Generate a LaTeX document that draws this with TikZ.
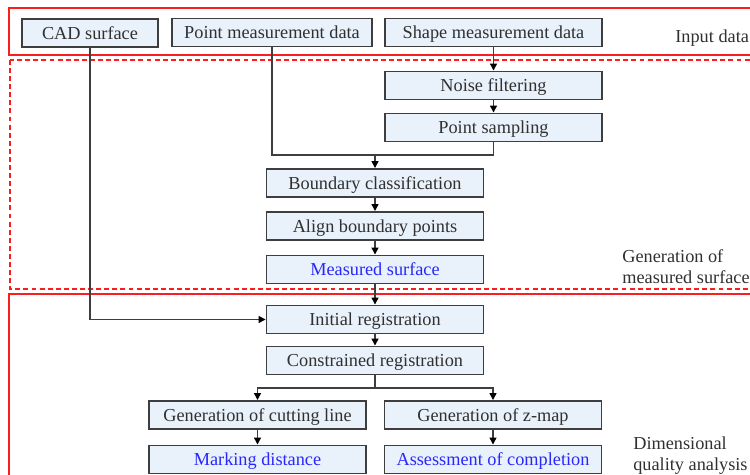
\documentclass[tikz,border=0pt]{standalone}
\usepackage{fontspec}
\setmainfont{Liberation Serif}
\usetikzlibrary{arrows.meta,positioning}

\definecolor{boxfill}{RGB}{233,241,250}
\definecolor{boxline}{RGB}{62,62,62}
\definecolor{txtgray}{RGB}{48,48,48}
\definecolor{resblue}{RGB}{40,40,250}
\definecolor{framered}{RGB}{250,30,30}

\begin{document}
\begin{tikzpicture}[x=0.02cm, y=-0.02cm,
    box/.style={draw=boxline, fill=boxfill, line width=1.1pt,
                minimum height=0.56cm, inner sep=0pt, text=txtgray,
                text height=8.5pt, text depth=1.5pt,
                font=\fontsize{10.4}{12.5}\selectfont},
    wide/.style={box, minimum width=4.34cm},
    result/.style={text=resblue},
    stage/.style={text=txtgray, align=left, anchor=west, inner sep=0pt,
                  font=\fontsize{10.4}{12}\selectfont},
    frame/.style={draw=framered, line width=0.8pt},
    link/.style={draw=boxline, line width=0.8pt},
    arr/.style={link, -{Triangle[length=4pt, width=4pt, color=black]}}]

    \useasboundingbox (0, 0) rectangle (750, 475);

    % Frames
    \draw [frame] (9, 8) rectangle (765, 55);
    \draw [frame, dash pattern=on 2.8pt off 1.8pt] (10, 60) rectangle (765, 289);
    \draw [frame] (9, 294) rectangle (765, 495);

    % Input data
    \node [box, minimum width=2.72cm] (cad) at (90, 33) {CAD surface};
    \node [box, minimum width=4cm] (pmd) at (272, 32.5) {Point measurement data};
    \node [wide] (smd) at (493.5, 32.5) {Shape measurement data};
    \node [stage] (inlab) at (675, 38) {Input data};

    % Generation of measured surface
    \node [wide] (noise) at (493.5, 85.5) {Noise filtering};
    \node [wide] (samp) at (493.5, 127.5) {Point sampling};
    \node [wide] (bnd) at (375, 183) {Boundary classification};
    \node [wide] (align) at (375, 226) {Align boundary points};
    \node [wide, result] (meas) at (375, 269.5) {Measured surface};
    \node [stage] (genlab) at (622, 266.5) {Generation of\\measured surface};

    % Dimensional quality analysis
    \node [wide] (init) at (375, 319.5) {Initial registration};
    \node [wide] (cons) at (375, 360.5) {Constrained registration};
    \node [wide] (cut) at (257.5, 415) {Generation of cutting line};
    \node [wide] (zmap) at (493, 415) {Generation of z-map};
    \node [wide, result] (mark) at (257.5, 459.5) {Marking distance};
    \node [wide, result] (assess) at (493, 459.5) {Assessment of completion};
    \node [stage] (dimlab) at (633, 456) {Dimensional\\quality analysis};

    % Connections
    \coordinate (join) at (375, 155);
    \coordinate (split) at (375, 388);

    \draw [arr] (smd) -- (noise);
    \draw [arr] (noise) -- (samp);
    \draw [link] (pmd.south) |- (join);
    \draw [link] (samp.south) |- (join);
    \draw [arr] (join) -- (bnd.north);
    \draw [arr] (bnd) -- (align);
    \draw [arr] (align) -- (meas);
    \draw [arr] (meas) -- (init);
    \draw [arr] (cad.south) |- (init.west);
    \draw [arr] (init) -- (cons);
    \draw [link] (cons.south) -- (split);
    \draw [arr] (split) -| (cut.north);
    \draw [arr] (split) -| (zmap.north);
    \draw [arr] (cut) -- (mark);
    \draw [arr] (zmap) -- (assess);

\end{tikzpicture}
\end{document}
